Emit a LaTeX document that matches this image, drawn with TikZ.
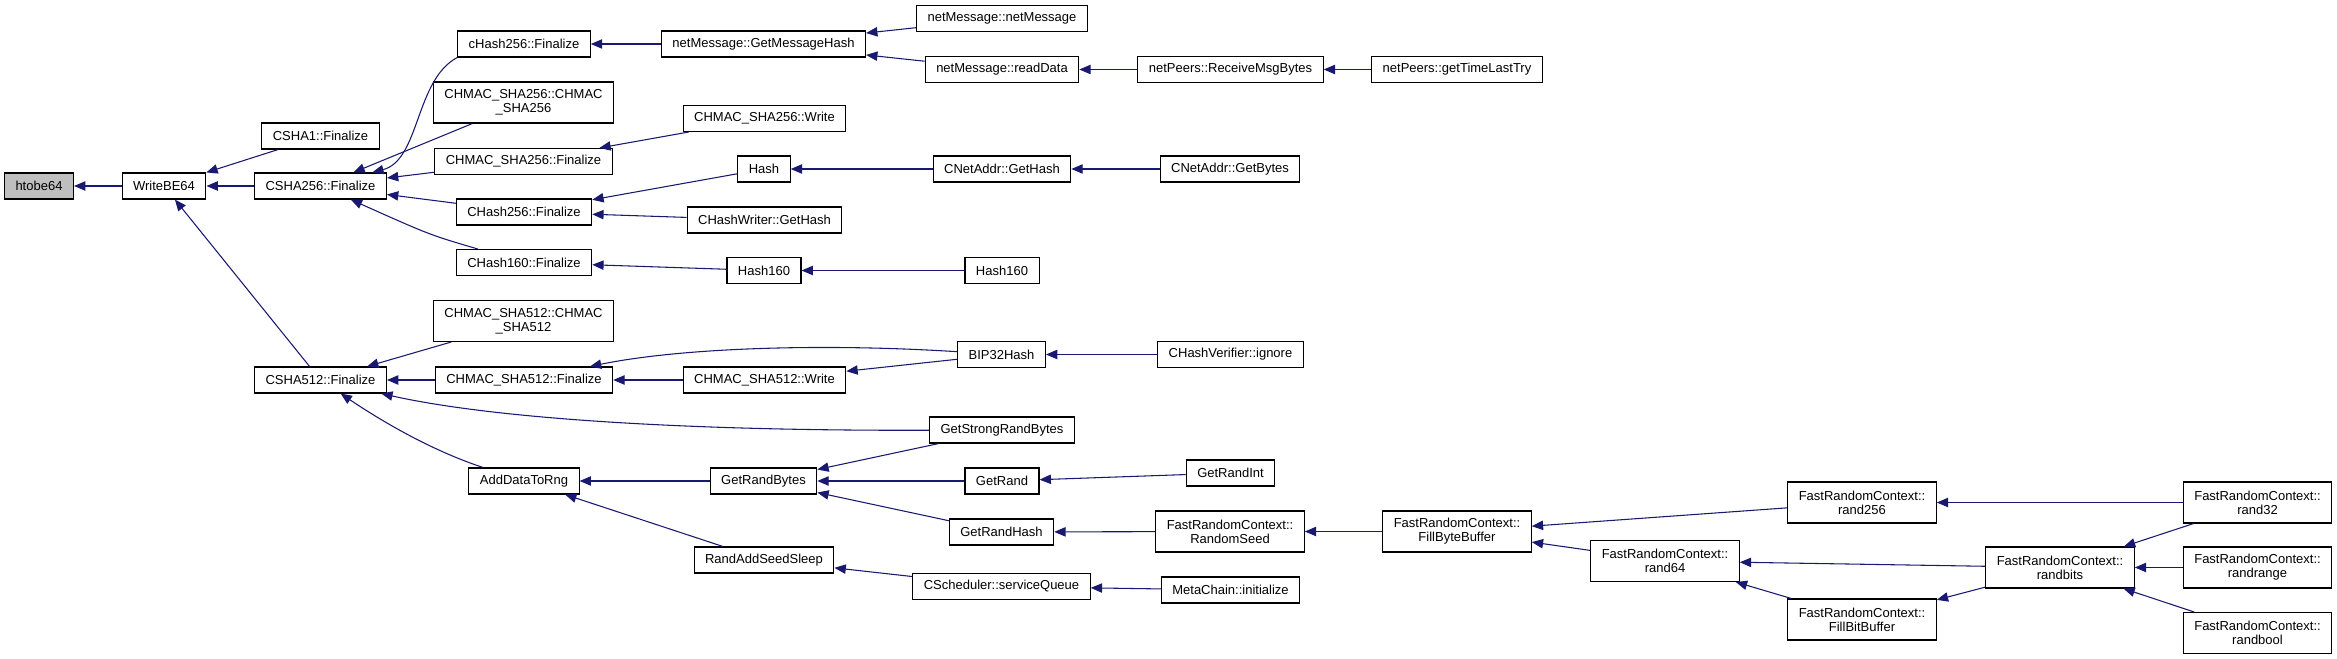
\documentclass[tikz,border=0pt]{standalone}
\usepackage{fontspec}
\setmainfont{Liberation Sans}
\usetikzlibrary{arrows.meta}
\definecolor{cgedge}{HTML}{191970}
\definecolor{cgroot}{HTML}{BFBFBF}
\tikzset{
  fn/.style={draw=black, fill=white, line width=0.8pt, align=center, font=\fontsize{9.75}{10.5}\selectfont, inner xsep=8.25pt, inner ysep=1pt, minimum height=19.5pt},
  fn2/.style={fn, minimum height=30.75pt},
  root/.style={fn, fill=cgroot},
  arr/.style={-{Triangle[length=8.5pt, width=7pt]}, line width=0.8pt, color=cgedge},
}
\begin{document}
\begin{tikzpicture}[x=0.75pt, y=-0.75pt]
  \useasboundingbox (0,0) rectangle (2337,659);
  % column 0-2
  \node[root] (htobe) at (39,186) {htobe64};
  \node[fn] (writebe) at (164,186) {WriteBE64};
  \node[fn] (csha1) at (320.5,136) {CSHA1::Finalize};
  \node[fn] (csha256f) at (320.5,186) {CSHA256::Finalize};
  \node[fn] (csha512f) at (320.5,380) {CSHA512::Finalize};
  % column 3
  \node[fn] (chash256l) at (524,44) {cHash256::Finalize};
  \node[fn2] (hmac256c) at (523.5,102.5) {CHMAC\_SHA256::CHMAC\\\_SHA256};
  \node[fn] (hmac256f) at (523.5,161.5) {CHMAC\_SHA256::Finalize};
  \node[fn] (chash256f) at (524,212) {CHash256::Finalize};
  \node[fn] (chash160f) at (524,262.5) {CHash160::Finalize};
  \node[fn2] (hmac512c) at (523.5,321) {CHMAC\_SHA512::CHMAC\\\_SHA512};
  \node[fn] (hmac512f) at (524,380) {CHMAC\_SHA512::Finalize};
  \node[fn] (adddata) at (524,481) {AddDataToRng};
  % column 4
  \node[fn] (getmsghash) at (763.5,44) {netMessage::GetMessageHash};
  \node[fn] (hmac256w) at (764.5,118.5) {CHMAC\_SHA256::Write};
  \node[fn] (hash) at (764,169) {Hash};
  \node[fn] (hwgethash) at (764.5,220) {CHashWriter::GetHash};
  \node[fn] (hash160a) at (764,270.5) {Hash160};
  \node[fn] (hmac512w) at (764.5,380) {CHMAC\_SHA512::Write};
  \node[fn] (getrandbytes) at (763.5,481) {GetRandBytes};
  \node[fn] (randaddseed) at (764,560) {RandAddSeedSleep};
  % column 5
  \node[fn] (netmsg) at (1002,18.5) {netMessage::netMessage};
  \node[fn] (readdata) at (1002,69.5) {netMessage::readData};
  \node[fn] (netaddrgh) at (1002,169) {CNetAddr::GetHash};
  \node[fn] (hash160b) at (1002,270.5) {Hash160};
  \node[fn] (bip32) at (1001.5,354.5) {BIP32Hash};
  \node[fn] (strongrand) at (1002,430) {GetStrongRandBytes};
  \node[fn] (getrand) at (1002,481) {GetRand};
  \node[fn] (getrandhash) at (1001.5,532) {GetRandHash};
  \node[fn] (svcqueue) at (1001.5,586.5) {CScheduler::serviceQueue};
  % column 6
  \node[fn] (recvmsg) at (1230.5,69.5) {netPeers::ReceiveMsgBytes};
  \node[fn] (nagetbytes) at (1230,169) {CNetAddr::GetBytes};
  \node[fn] (hvignore) at (1230.5,354.5) {CHashVerifier::ignore};
  \node[fn] (getrandint) at (1230.5,473) {GetRandInt};
  \node[fn2] (randomseed) at (1230,531.5) {FastRandomContext::\\RandomSeed};
  \node[fn] (metainit) at (1230.5,590) {MetaChain::initialize};
  % column 7 and on
  \node[fn] (gettimelast) at (1457,69.5) {netPeers::getTimeLastTry};
  \node[fn2] (fillbyte) at (1457,531.5) {FastRandomContext::\\FillByteBuffer};
  \node[fn2] (rand64) at (1665,561) {FastRandomContext::\\rand64};
  \node[fn2] (rand256) at (1862,502.5) {FastRandomContext::\\rand256};
  \node[fn2] (fillbit) at (1862,619.5) {FastRandomContext::\\FillBitBuffer};
  \node[fn2] (randbits) at (2060,567.5) {FastRandomContext::\\randbits};
  \node[fn2] (rand32) at (2257.5,502.5) {FastRandomContext::\\rand32};
  \node[fn2] (randrange) at (2257.5,567.5) {FastRandomContext::\\randrange};
  \node[fn2] (randbool) at (2257.5,633) {FastRandomContext::\\randbool};
  % calls
  \foreach \a/\b in {writebe/htobe,csha1/writebe,csha256f/writebe,csha512f/writebe,
    hmac256c/csha256f,hmac256f/csha256f,chash256f/csha256f,
    getmsghash/chash256l,netmsg/getmsghash,readdata/getmsghash,recvmsg/readdata,gettimelast/recvmsg,
    hmac256w/hmac256f,hash/chash256f,hwgethash/chash256f,netaddrgh/hash,nagetbytes/netaddrgh,
    hash160a/chash160f,hash160b/hash160a,
    hmac512c/csha512f,hmac512f/csha512f,hmac512w/hmac512f,bip32/hmac512w,hvignore/bip32,
    getrandbytes/adddata,randaddseed/adddata,strongrand/getrandbytes,getrand/getrandbytes,
    getrandhash/getrandbytes,getrandint/getrand,randomseed/getrandhash,fillbyte/randomseed,
    svcqueue/randaddseed,metainit/svcqueue,
    rand256/fillbyte,rand64/fillbyte,rand32/rand256,randbits/rand64,randbits/fillbit,
    fillbit/rand64,rand32/randbits,randrange/randbits,randbool/randbits}
    \draw[arr] (\a) -- (\b);
  \draw[arr] (chash256l.south west) .. controls (415,80) and (420,160) .. (csha256f);
  \draw[arr] (chash160f) .. controls (430,235) .. (csha256f);
  \draw[arr] (bip32) .. controls (820,343) and (680,348) .. (hmac512f);
  \draw[arr] (strongrand) .. controls (700,431) and (500,420) .. (csha512f);
  \draw[arr] (adddata) .. controls (430,450) and (380,420) .. (csha512f);
\end{tikzpicture}
\end{document}
